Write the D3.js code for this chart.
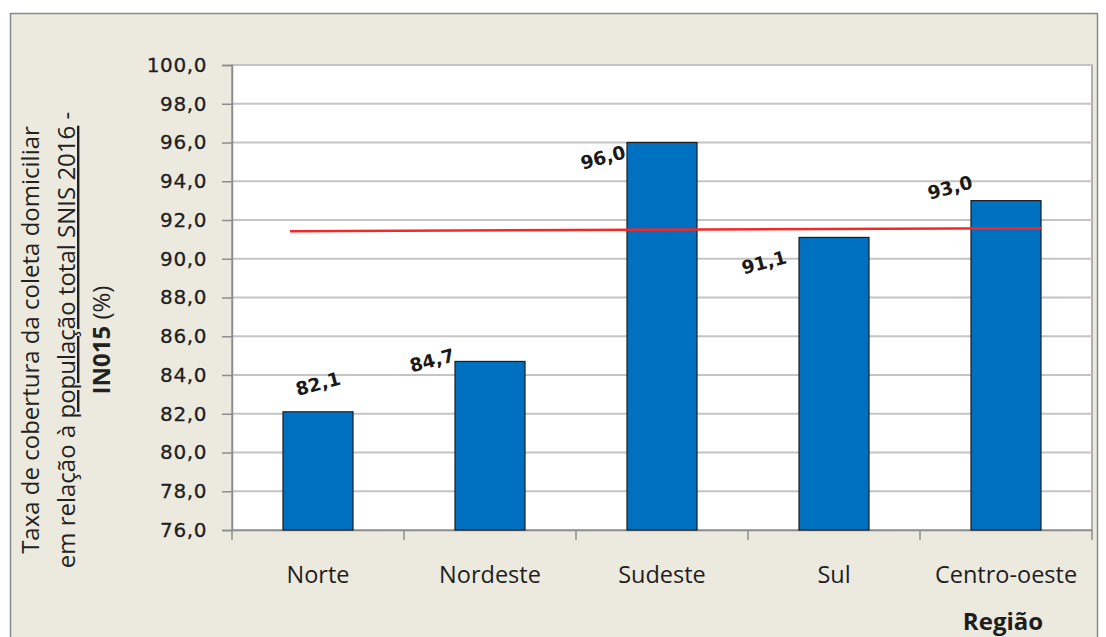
<!DOCTYPE html>
<html><head><meta charset="utf-8">
<script src="https://cdn.jsdelivr.net/npm/d3@7"></script>
<style>
html,body{margin:0;padding:0;background:#fff;}
svg{display:block;}
</style></head>
<body>
<svg id="chart" width="1106" height="637"></svg>
<script>
// ---- data ----
const regions = ["Norte", "Nordeste", "Sudeste", "Sul", "Centro-oeste"];
const coverage = [82.1, 84.7, 96.0, 91.1, 93.0];
const valueLabels = ["82,1", "84,7", "96,0", "91,1", "93,0"];
const yTicks = [76, 78, 80, 82, 84, 86, 88, 90, 92, 94, 96, 98, 100];
const meanLine = [91.42, 91.58]; // red reference line (start, end)

// label placement nudges (layout only)
const labelNudge = [
  {anchor: "center", dx: 0, dy: -28},
  {anchor: "left", dx: -23, dy: -1},
  {anchor: "left", dx: -24, dy: 15},
  {anchor: "left", dx: -35, dy: 25},
  {anchor: "left", dx: -21, dy: -13}
];

const svg = d3.select("#chart");
const m = {left: 232, right: 1092, top: 65, bottom: 530};

// frame
svg.append("rect").attr("x", 10.5).attr("y", 13.5).attr("width", 1087).attr("height", 640)
  .attr("fill", "#ECE9DF").attr("stroke", "#8a8a8a").attr("stroke-width", 1.5);

// plot area
svg.append("rect").attr("x", m.left).attr("y", m.top)
  .attr("width", m.right - m.left).attr("height", m.bottom - m.top)
  .attr("fill", "#fff").attr("stroke", "#9a9a9a").attr("stroke-width", 1.5);

const x = d3.scaleBand().domain(regions).range([m.left, m.right])
  .paddingInner(0.593).paddingOuter(0.2965);
const y = d3.scaleLinear().domain([76, 100]).range([m.bottom, m.top]);

// gridlines
svg.append("g").selectAll("line").data(yTicks.filter(t => t > 76)).join("line")
  .attr("x1", m.left).attr("x2", m.right)
  .attr("y1", d => y(d)).attr("y2", d => y(d))
  .attr("stroke", "#c4c4c4").attr("stroke-width", 2);

// y axis
const fmt = d => d.toFixed(1).replace(".", ",");
const yAxis = svg.append("g").attr("transform", `translate(${m.left},0)`)
  .call(d3.axisLeft(y).tickValues(yTicks).tickFormat(fmt).tickSize(10).tickPadding(15));
yAxis.select(".domain").attr("stroke", "#8c8c8c").attr("stroke-width", 1.5);
yAxis.selectAll(".tick line").attr("stroke", "#8c8c8c").attr("stroke-width", 1.5);
yAxis.selectAll(".tick text").attr("font-family", "DejaVu Sans, Verdana, sans-serif")
  .attr("font-size", 20).attr("fill", "#1e1e1e")
  .attr("stroke", "#1e1e1e").attr("stroke-width", 0.3)
  .style("letter-spacing", "0.6px");

// x axis
const xAxis = svg.append("g").attr("transform", `translate(0,${m.bottom})`)
  .call(d3.axisBottom(x).tickSize(0).tickPadding(36));
xAxis.select(".domain").attr("stroke", "#8c8c8c").attr("stroke-width", 1.5);
xAxis.selectAll(".tick text").attr("font-family", "Open Sans, sans-serif")
  .attr("font-size", 23.5).attr("fill", "#1e1e1e");
// category separator ticks
const sepX = regions.map(r => x(r) - x.step() * x.paddingInner() / 2);
sepX.push(m.right);
svg.append("g").selectAll("line").data(sepX).join("line")
  .attr("x1", d => d).attr("x2", d => d).attr("y1", m.bottom).attr("y2", m.bottom + 10)
  .attr("stroke", "#8c8c8c").attr("stroke-width", 1.5);

// bars
svg.append("g").selectAll("rect").data(coverage).join("rect")
  .attr("x", (d, i) => x(regions[i]))
  .attr("y", d => y(d))
  .attr("width", x.bandwidth())
  .attr("height", d => y(76) - y(d))
  .attr("fill", "#0070C0").attr("stroke", "#1d1d1d").attr("stroke-width", 1.2);

// red mean line
svg.append("line")
  .attr("x1", x(regions[0]) + 7).attr("x2", x(regions[regions.length - 1]) + x.bandwidth())
  .attr("y1", y(meanLine[0])).attr("y2", y(meanLine[1]))
  .attr("stroke", "#F52828").attr("stroke-width", 2.5);

// value labels
svg.append("g").selectAll("text").data(coverage).join("text")
  .attr("transform", (d, i) => {
    const n = labelNudge[i];
    const cx = n.anchor === "center" ? x(regions[i]) + x.bandwidth() / 2 : x(regions[i]);
    return `translate(${cx + n.dx},${y(d) + n.dy}) rotate(-15)`;
  })
  .attr("text-anchor", "middle").attr("dy", "0.35em")
  .attr("font-family", "DejaVu Sans, Verdana, sans-serif").attr("font-weight", "bold")
  .attr("font-size", 18.5).attr("fill", "#1a1a1a")
  .text((d, i) => valueLabels[i]);

// y axis title
const yt = svg.append("g").attr("transform", "translate(0,340) rotate(-90)")
  .attr("font-family", "Open Sans, sans-serif").attr("font-size", 24).attr("fill", "#222")
  .attr("text-anchor", "middle");
yt.append("text").attr("x", 0).attr("y", 39).text("Taxa de cobertura da coleta domiciliar");
const l2 = yt.append("text").attr("x", 0).attr("y", 75);
l2.append("tspan").text("em relação à ");
l2.append("tspan").attr("text-decoration", "underline").text("população  total SNIS 2016");
l2.append("tspan").text(" -");
const l3 = yt.append("text").attr("x", 0).attr("y", 110);
l3.append("tspan").attr("font-weight", "bold").text("IN015");
l3.append("tspan").text(" (%)");

// x axis title
svg.append("text").attr("x", 1003).attr("y", 630).attr("text-anchor", "middle")
  .attr("font-family", "Open Sans, sans-serif").attr("font-weight", "bold")
  .attr("font-size", 24).attr("fill", "#1e1e1e").text("Região");
</script>
</body></html>
